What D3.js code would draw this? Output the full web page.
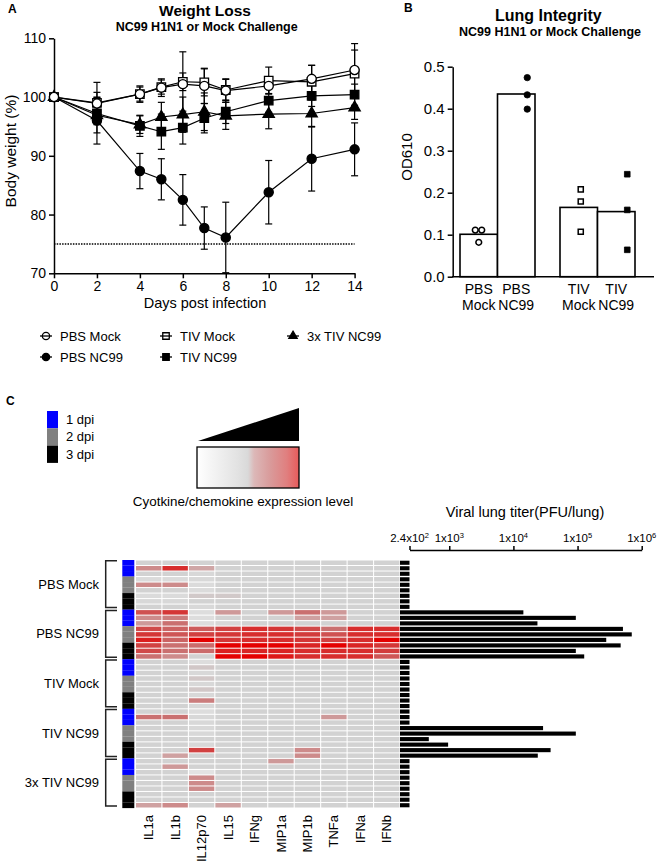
<!DOCTYPE html>
<html><head><meta charset="utf-8">
<script src="https://cdn.jsdelivr.net/npm/d3@7"></script>
<style>
body{margin:0;background:#fff;}
text{font-family:Arial,"Liberation Sans",sans-serif;fill:#000;}
</style></head><body>
<svg id="c" width="663" height="865"></svg>
<script>
// ---------- Panel A data ----------
const days = [0,2,4,5,6,7,8,10,12,14];
const pbsMock     = [100,98.9,100.5,101.6,102.2,101.9,101.1,101.9,103.1,104.6];
const pbsMockErr  = [0,3.6,1.4,1.5,5.5,3.0,2.0,1.3,2.3,4.5];
const tivMock     = [100,99.0,100.5,101.7,102.6,102.5,101.2,102.8,102.6,104.0];
const tivMockErr  = [0,1.8,1.2,1.2,1.5,2.3,1.8,2.3,2.8,4.0];
const tiv3xNC99   = [100,96.9,95.3,96.6,97.0,97.5,96.8,97.1,97.2,98.2];
const tiv3xErr    = [0,3.0,1.5,2.5,3.0,3.2,2.3,2.5,2.3,2.0];
const pbsNC99     = [100,96.0,87.4,86.0,82.5,77.7,76.1,83.8,89.5,91.1];
const pbsNC99Err  = [0,4.0,3.0,3.5,4.3,3.6,6.0,5.4,5.5,4.5];
const tivNC99     = [100,97.2,95.1,94.1,94.8,96.4,97.5,99.4,100.2,100.4];
const tivNC99Err  = [0,1.5,1.8,3.0,2.8,2.5,2.0,2.0,1.8,1.8];
const weightTicksY = [70,80,90,100,110];
const weightTicksX = [0,2,4,6,8,10,12,14];
const lethalLine = 75;

// ---------- Panel B data ----------
const lungTreat = ["PBS","PBS","TIV","TIV"];
const lungChal  = ["Mock","NC99","Mock","NC99"];
const lungMean  = [0.101,0.435,0.165,0.155];
const lungPts   = [[0.111,0.111,0.082],[0.474,0.433,0.399],[0.208,0.179,0.107],[0.244,0.159,0.064]];
const lungTicks = [0,0.1,0.2,0.3,0.4,0.5];

// ---------- Panel C data ----------
const cytokines = ["IL1a","IL1b","IL12p70","IL15","IFNg","MIP1a","MIP1b","TNFa","IFNa","IFNb"];
const groups = ["PBS Mock","PBS NC99","TIV Mock","TIV NC99","3x TIV NC99"];
const dpiLabels = ["1 dpi","2 dpi","3 dpi"];
const expression = [
 [.2,.2,.2,.2,.2,.2,.2,.2,.2,.2],
 [.5,.85,.4,.2,.2,.2,.2,.2,.2,.2],
 [.2,.2,.15,.2,.2,.2,.2,.2,.2,.2],
 [.12,.12,.15,.2,.2,.2,.2,.2,.2,.2],
 [.5,.5,.12,.2,.2,.2,.2,.2,.2,.2],
 [.2,.2,.12,.2,.2,.2,.2,.2,.2,.2],
 [.12,.12,.24,.24,.2,.2,.2,.2,.2,.2],
 [.15,.15,.2,.2,.2,.2,.2,.2,.2,.2],
 [.2,.2,.15,.2,.2,.2,.2,.2,.2,.2],
 [.72,.82,.1,.45,.2,.45,.6,.45,.2,.2],
 [.5,.55,.1,.2,.2,.2,.42,.42,.2,.2],
 [.45,.6,.1,.15,.2,.2,.2,.2,.2,.2],
 [.75,.65,.68,.78,.85,.82,.75,.6,.85,.85],
 [.82,.7,.78,.82,.85,.85,.8,.72,.85,.85],
 [.9,.65,1,.82,.85,.85,.82,.78,.85,1],
 [.78,.6,.62,1,1,1,.88,1,.88,.82],
 [.75,.6,.62,.9,.88,.88,.85,.85,.85,.8],
 [.6,.5,.2,1,1,.92,.85,.85,.85,.7],
 [.2,.2,.1,.2,.2,.2,.2,.2,.2,.2],
 [.2,.2,.25,.2,.2,.2,.2,.2,.2,.2],
 [.2,.2,.15,.2,.2,.2,.2,.2,.2,.2],
 [.2,.2,.25,.2,.2,.2,.2,.2,.2,.2],
 [.2,.2,.15,.2,.2,.2,.2,.2,.2,.2],
 [.2,.2,.25,.2,.2,.2,.2,.2,.2,.2],
 [.2,.2,.15,.2,.2,.2,.2,.2,.2,.2],
 [.2,.2,.55,.2,.2,.2,.2,.2,.2,.2],
 [.2,.2,.15,.2,.2,.2,.2,.2,.2,.2],
 [.2,.2,.1,.2,.2,.2,.2,.2,.2,.2],
 [.6,.6,.15,.2,.2,.2,.2,.45,.2,.2],
 [.2,.2,.15,.2,.2,.2,.2,.2,.2,.2],
 [.2,.2,.15,.2,.2,.2,.2,.2,.2,.2],
 [.2,.2,.15,.2,.2,.2,.2,.2,.2,.2],
 [.2,.2,.2,.2,.2,.2,.2,.2,.2,.2],
 [.2,.2,.15,.2,.2,.2,.2,.2,.2,.2],
 [.2,.2,.78,.2,.2,.2,.5,.2,.2,.2],
 [.2,.42,.2,.2,.2,.2,.5,.2,.2,.2],
 [.2,.2,.2,.2,.2,.45,.2,.2,.2,.2],
 [.2,.45,.2,.2,.2,.2,.2,.2,.2,.2],
 [.2,.2,.05,.2,.2,.2,.2,.2,.2,.2],
 [.2,.2,.5,.2,.2,.2,.2,.2,.2,.2],
 [.2,.2,.5,.2,.2,.2,.2,.2,.2,.2],
 [.2,.2,.5,.2,.2,.2,.2,.2,.2,.2],
 [.2,.2,.2,.2,.2,.2,.2,.2,.2,.2],
 [.2,.2,.2,.2,.2,.2,.2,.2,.2,.2],
 [.42,.5,.2,.42,.2,.2,.2,.2,.2,.2]
];
const viralTiter = [
 240,240,240,240,240,240,240,240,240,
 1.43e4,9.4e4,2.37e4,5.1e5,7.0e5,2.8e5,4.7e5,9.4e4,1.27e5,
 240,240,240,240,240,240,240,240,240,
 240,240,240,2.9e4,9.4e4,480,960,3.8e4,2.4e4,
 240,240,240,240,240,240,240,240,240
];
const titerTicks = [240,1e3,1e4,1e5,1e6];
const titerTickBase = ["2.4x10","1x10","1x10","1x10","1x10"];
const titerTickExp  = ["2","3","4","5","6"];

// ---------- Drawing ----------
const svg = d3.select("#c");
const FONT = 'Arial,"Liberation Sans",sans-serif';

function styleAxis(g, fs){
  g.selectAll("path,line").attr("stroke","#000").attr("stroke-width",1.5);
  g.selectAll("text").attr("font-size",fs).attr("font-family",FONT).attr("fill","#000");
}

// ===== Panel A =====
const xA = d3.scaleLinear().domain([0,14]).range([54,354.6]);
const yA = d3.scaleLinear().domain([70,110]).range([273.3,38.3]);
svg.append("text").attr("x",8).attr("y",13).attr("font-size",12).attr("font-weight","bold").text("A");
svg.append("text").attr("x",205).attr("y",15.5).attr("text-anchor","middle").attr("font-size",15.5).attr("font-weight","bold").text("Weight Loss");
svg.append("text").attr("x",206.7).attr("y",30.5).attr("text-anchor","middle").attr("font-size",12.5).attr("font-weight","bold").text("NC99 H1N1 or Mock Challenge");

svg.append("line").attr("x1",xA(0)).attr("x2",xA(14)).attr("y1",yA(lethalLine)).attr("y2",yA(lethalLine))
  .attr("stroke","#000").attr("stroke-width",1.5).attr("stroke-dasharray","1.5,1.2");

const axA1 = svg.append("g").attr("transform",`translate(0,${yA(70)})`)
  .call(d3.axisBottom(xA).tickValues(weightTicksX).tickSize(5).tickSizeOuter(0));
styleAxis(axA1,14);
const axA2 = svg.append("g").attr("transform",`translate(${xA(0)},0)`)
  .call(d3.axisLeft(yA).tickValues(weightTicksY).tickSize(5).tickSizeOuter(0));
styleAxis(axA2,14);
svg.append("text").attr("transform","translate(16,151) rotate(-90)").attr("text-anchor","middle").attr("font-size",15.5).text("Body weight (%)");
svg.append("text").attr("x",205).attr("y",308).attr("text-anchor","middle").attr("font-size",14.5).text("Days post infection");

const seriesA = [
  {name:"PBS NC99", v:pbsNC99, e:pbsNC99Err, sym:d3.symbolCircle, size:66, fill:"#000"},
  {name:"TIV NC99", v:tivNC99, e:tivNC99Err, sym:d3.symbolSquare, size:72, fill:"#000"},
  {name:"3x TIV NC99", v:tiv3xNC99, e:tiv3xErr, sym:d3.symbolTriangle, size:55, fill:"#000"},
  {name:"TIV Mock", v:tivMock, e:tivMockErr, sym:d3.symbolSquare, size:72, fill:"#fff"},
  {name:"PBS Mock", v:pbsMock, e:pbsMockErr, sym:d3.symbolCircle, size:66, fill:"#fff"}
];
const line = d3.line().x((d,i)=>xA(days[i])).y(d=>yA(d));
seriesA.forEach(s=>{
  const g = svg.append("g");
  s.v.forEach((v,i)=>{
    if(s.e[i]<=0) return;
    const x = xA(days[i]);
    const lo = Math.max(70, v - s.e[i]), hi = v + s.e[i];
    g.append("line").attr("x1",x).attr("x2",x).attr("y1",yA(lo)).attr("y2",yA(hi)).attr("stroke","#000").attr("stroke-width",1.2);
    g.append("line").attr("x1",x-3.5).attr("x2",x+3.5).attr("y1",yA(hi)).attr("y2",yA(hi)).attr("stroke","#000").attr("stroke-width",1.2);
    if (v - s.e[i] > 70) g.append("line").attr("x1",x-3.5).attr("x2",x+3.5).attr("y1",yA(lo)).attr("y2",yA(lo)).attr("stroke","#000").attr("stroke-width",1.2);
  });
  g.append("path").datum(s.v).attr("d",line).attr("fill","none").attr("stroke","#000").attr("stroke-width",1.2);
});
seriesA.forEach(s=>{
  svg.append("g").selectAll("path").data(s.v).join("path")
    .attr("transform",(d,i)=>`translate(${xA(days[i])},${yA(d)})`)
    .attr("d",d3.symbol().type(s.sym).size(s.size))
    .attr("fill",s.fill).attr("stroke","#000").attr("stroke-width",1.3);
});

// Legend A
const legA = [
  {name:"PBS Mock", sym:d3.symbolCircle, fill:"#fff", col:0,row:0, size:42},
  {name:"TIV Mock", sym:d3.symbolSquare, fill:"#fff", col:1,row:0, size:42},
  {name:"3x TIV NC99", sym:d3.symbolTriangle, fill:"#000", col:2,row:0, size:30},
  {name:"PBS NC99", sym:d3.symbolCircle, fill:"#000", col:0,row:1, size:42},
  {name:"TIV NC99", sym:d3.symbolSquare, fill:"#000", col:1,row:1, size:42}
];
const legColX = [46,166,293], legRowY = [336,357];
legA.forEach(l=>{
  const x = legColX[l.col], y = legRowY[l.row];
  svg.append("path").attr("transform",`translate(${x},${y})`).attr("d",d3.symbol().type(l.sym).size(l.size))
    .attr("fill",l.fill).attr("stroke","#000").attr("stroke-width",1.3);
  svg.append("line").attr("x1",x-6).attr("x2",x+6).attr("y1",y).attr("y2",y).attr("stroke","#000").attr("stroke-width",1.3);
  svg.append("text").attr("x",x+14).attr("y",y+4.7).attr("font-size",13).text(l.name);
});

// ===== Panel B =====
const yB = d3.scaleLinear().domain([0,0.5]).range([276.7,66.7]);
const xOuter = d3.scaleBand().domain(["PBS","TIV"]).range([455,640]).paddingInner(0.25).paddingOuter(0.05);
const xInner = d3.scaleBand().domain(["Mock","NC99"]).range([0,xOuter.bandwidth()]);
svg.append("text").attr("x",404).attr("y",12).attr("font-size",12).attr("font-weight","bold").text("B");
svg.append("text").attr("x",548.3).attr("y",20.5).attr("text-anchor","middle").attr("font-size",16).attr("font-weight","bold").text("Lung Integrity");
svg.append("text").attr("x",550).attr("y",36.4).attr("text-anchor","middle").attr("font-size",12.5).attr("font-weight","bold").text("NC99 H1N1 or Mock Challenge");

lungMean.forEach((m,i)=>{
  const x0 = xOuter(lungTreat[i]) + xInner(lungChal[i]);
  svg.append("rect").attr("x",x0).attr("width",xInner.bandwidth()).attr("y",yB(m)).attr("height",yB(0)-yB(m))
    .attr("fill","#fff").attr("stroke","#000").attr("stroke-width",1.6);
});
const axB = svg.append("g").attr("transform",`translate(452.7,0)`)
  .call(d3.axisLeft(yB).tickValues(lungTicks).tickFormat(d3.format(".1f")).tickSize(5).tickSizeOuter(0));
styleAxis(axB,15);
svg.append("line").attr("x1",452).attr("x2",654).attr("y1",yB(0)).attr("y2",yB(0)).attr("stroke","#000").attr("stroke-width",1.5);
svg.append("text").attr("transform","translate(412,157) rotate(-90)").attr("text-anchor","middle").attr("font-size",15).text("OD610");

const ptOffset = [[-3.5,3,0],[11,11,11],[2,2,2],[11,11,11]];
const bShape = [d3.symbolCircle,d3.symbolCircle,d3.symbolSquare,d3.symbolSquare];
const bFill = ["#fff","#000","#fff","#000"];
lungPts.forEach((pts,i)=>{
  const cx = xOuter(lungTreat[i]) + xInner(lungChal[i]) + xInner.bandwidth()/2;
  pts.forEach((p,j)=>{
    svg.append("path").attr("transform",`translate(${cx+ptOffset[i][j]},${yB(p)})`)
      .attr("d",d3.symbol().type(bShape[i]).size(bFill[i]==="#fff"?26:32))
      .attr("fill",bFill[i]).attr("stroke","#000").attr("stroke-width",bFill[i]==="#fff"?1.5:0.8);
  });
  svg.append("text").attr("x",cx).attr("y",294).attr("text-anchor","middle").attr("font-size",14).text(lungTreat[i]);
  svg.append("text").attr("x",cx).attr("y",310).attr("text-anchor","middle").attr("font-size",14).text(lungChal[i]);
});

// ===== Panel C =====
svg.append("text").attr("x",6).attr("y",405).attr("font-size",12).attr("font-weight","bold").text("C");

const xH = d3.scaleBand().domain(cytokines).range([136,399.5]).paddingInner(0.04).paddingOuter(0);
const yR = d3.scaleBand().domain(d3.range(expression.length)).range([560,808]);
const heatColor = d3.scaleLinear().domain([0,0.2,0.4,0.6,0.8,1])
  .range(["#e8e8e8","#d2d2d2","#cfa6a6","#ca7070","#d23c3c","#e40000"]);
const dpiColor = ["#0000ff","#808080","#000000"];

expression.forEach((row,i)=>{
  row.forEach((v,j)=>{
    svg.append("rect").attr("x",xH(cytokines[j])).attr("width",xH.bandwidth())
      .attr("y",yR(i)+0.5).attr("height",yR.bandwidth()-1).attr("fill",heatColor(v));
  });
});
expression.forEach((row,i)=>{
  svg.append("rect").attr("x",122.3).attr("width",12).attr("y",yR(i)).attr("height",yR.bandwidth()+0.1)
    .attr("fill",dpiColor[Math.floor((i%9)/3)]);
});
groups.forEach((gname,g)=>{
  const top = yR(g*9)+0.8, bot = yR(g*9+8)+yR.bandwidth()-2;
  svg.append("path").attr("d",`M117,${top}H105.7V${bot}H117`).attr("fill","none").attr("stroke","#222").attr("stroke-width",1.5);
  svg.append("text").attr("x",99).attr("y",(top+bot)/2+4.5).attr("text-anchor","end").attr("font-size",13).text(gname);
});
cytokines.forEach(c=>{
  const x = xH(c)+xH.bandwidth()/2 + 4.6;
  svg.append("text").attr("transform",`translate(${x},815) rotate(-90)`).attr("text-anchor","end").attr("font-size",13).text(c);
});

const xT = d3.scaleLog().domain([240,1e6]).range([409.5,641.7]);
viralTiter.forEach((v,i)=>{
  svg.append("rect").attr("x",400).attr("width",xT(v)-400).attr("y",yR(i)+0.7).attr("height",yR.bandwidth()-1.4).attr("fill","#000");
});
const axT = svg.append("g").attr("transform","translate(0,550)")
  .call(d3.axisTop(xT).tickValues(titerTicks).tickFormat("").tickSize(4).tickSizeOuter(0));
styleAxis(axT,11);
titerTicks.forEach((t,i)=>{
  const tx = svg.append("text").attr("x",xT(t)).attr("y",542).attr("text-anchor","middle").attr("font-size",11.5);
  tx.append("tspan").text(titerTickBase[i]);
  tx.append("tspan").attr("dy",-4).attr("font-size",7.5).text(titerTickExp[i]);
});
svg.append("text").attr("x",525).attr("y",516.5).attr("text-anchor","middle").attr("font-size",14.5).text("Viral lung titer(PFU/lung)");

dpiLabels.forEach((d,k)=>{
  svg.append("rect").attr("x",47).attr("y",411+k*17.3).attr("width",11).attr("height",17.3).attr("fill",dpiColor[k]);
  svg.append("text").attr("x",66).attr("y",411+k*17.3+13).attr("font-size",13).text(d);
});

const defs = svg.append("defs");
const grad = defs.append("linearGradient").attr("id","expgrad");
[[0,"#ffffff"],[0.15,"#f4f4f4"],[0.4,"#e2e2e2"],[0.5,"#d9d9d9"],[0.56,"#dcb8b8"],[0.72,"#d99a9a"],[0.88,"#e07f7f"],[1,"#e85a5a"]]
  .forEach(s=>grad.append("stop").attr("offset",s[0]).attr("stop-color",s[1]));
svg.append("path").attr("d","M198,441L299,441L299,408Z").attr("fill","#000");
svg.append("rect").attr("x",197).attr("y",447).attr("width",102).attr("height",41).attr("fill","url(#expgrad)").attr("stroke","#000").attr("stroke-width",1.3);
svg.append("text").attr("x",243).attr("y",506).attr("text-anchor","middle").attr("font-size",13.4).text("Cyotkine/chemokine expression level");
</script>
</body></html>
